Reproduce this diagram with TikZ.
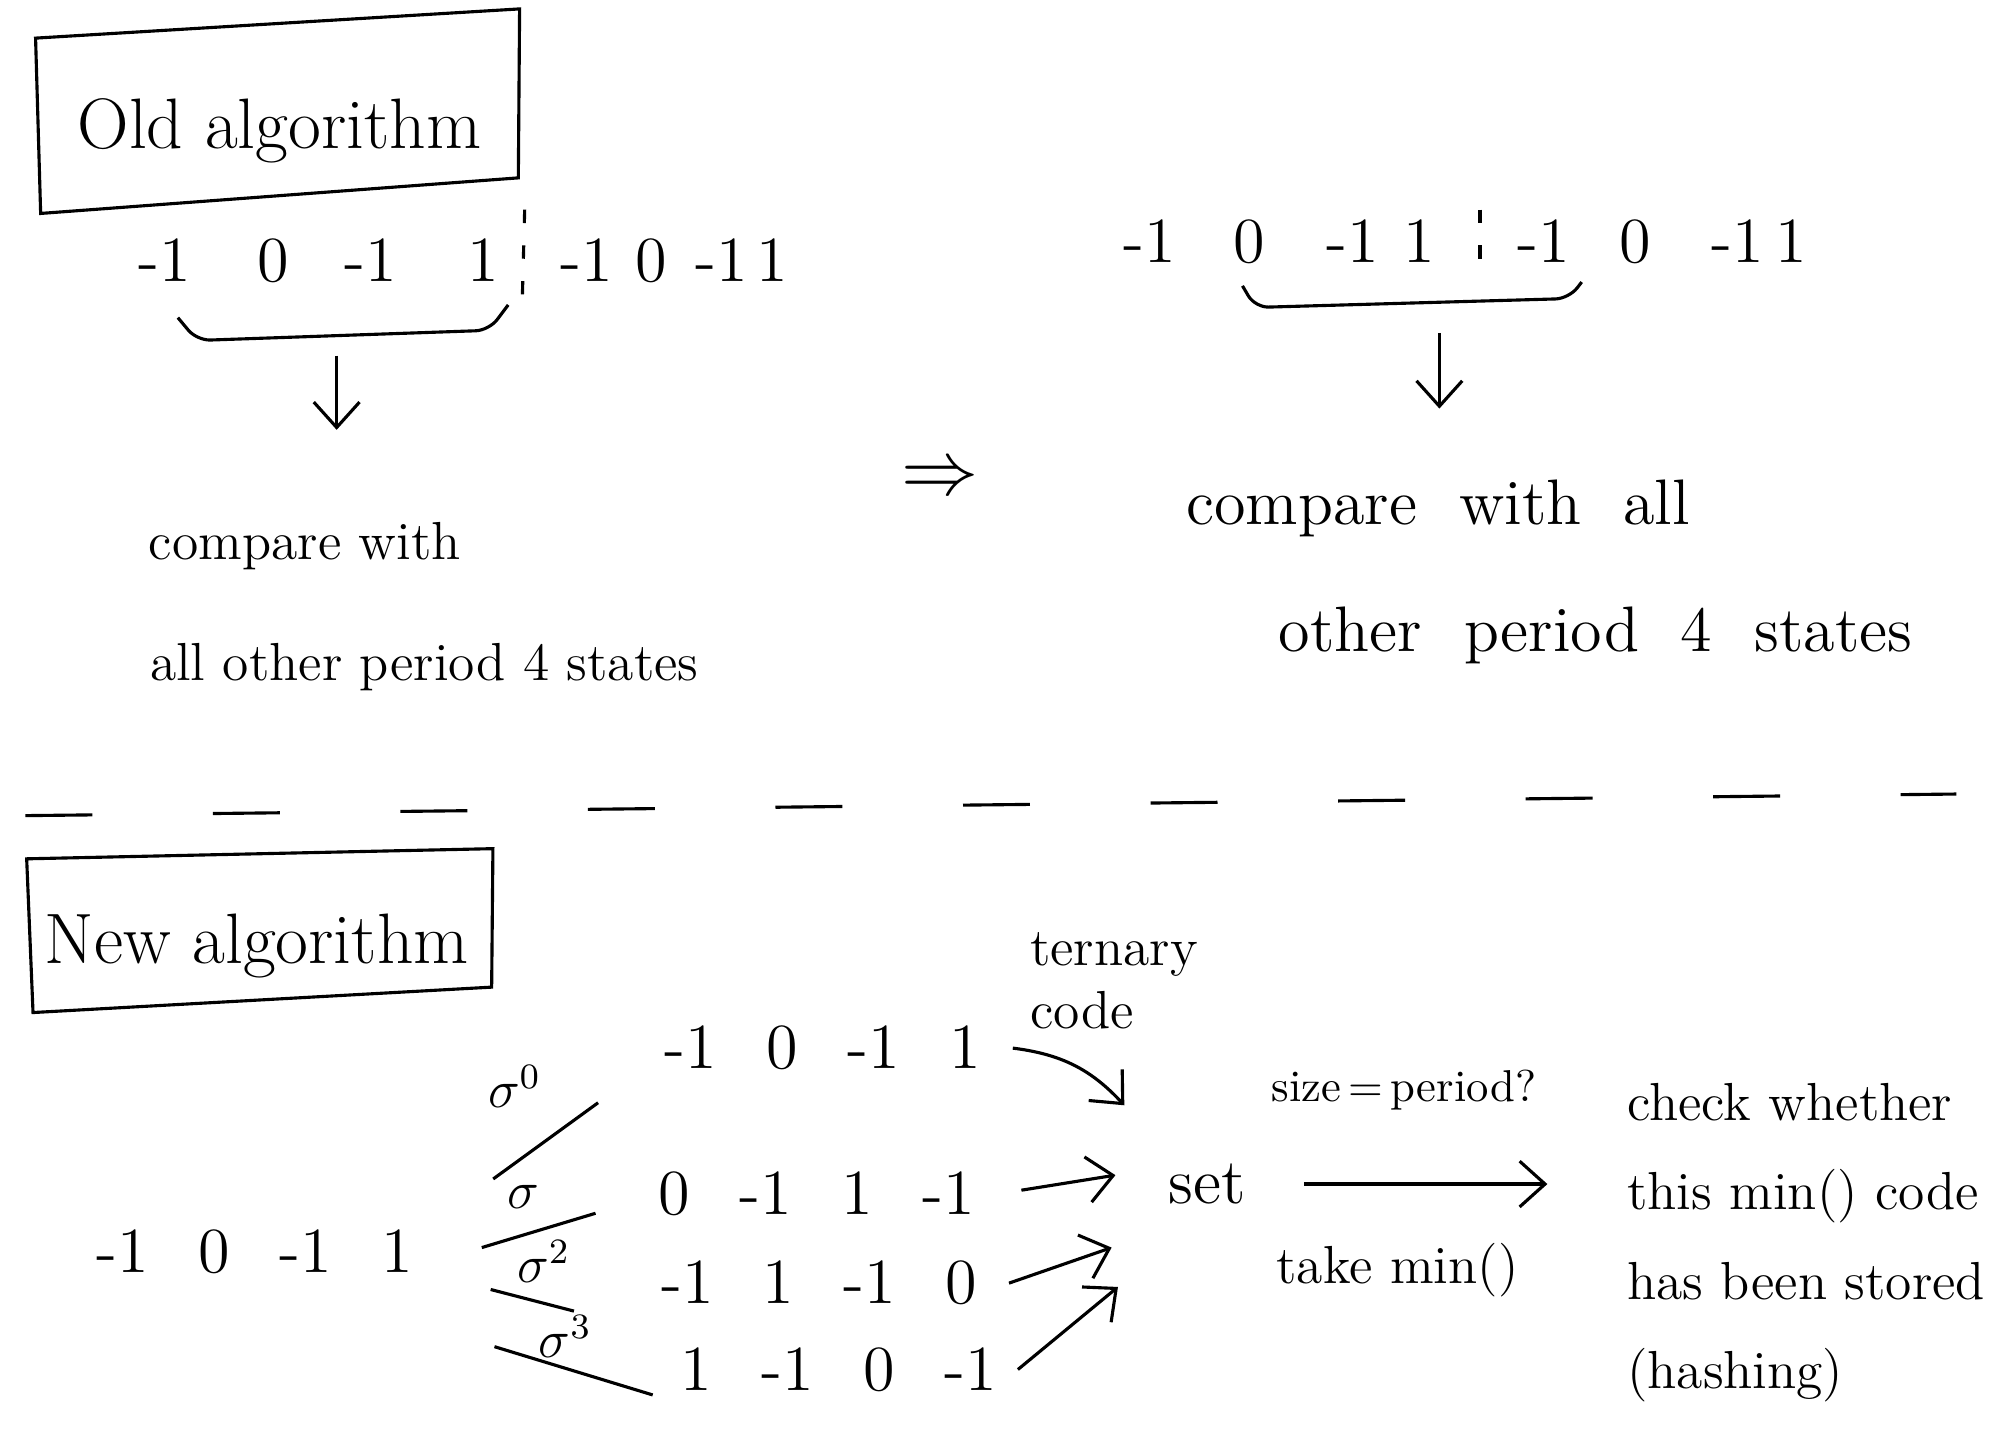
\documentclass[tikz,border=0pt]{standalone}
\usetikzlibrary{calc,arrows.meta}
\begin{document}
\begin{tikzpicture}[line width=0.7pt,>={Straight Barb[length=2mm,width=3.6mm]},
  num/.style={font=\Large,inner sep=1pt},
  seq/.style={font=\Large,inner sep=0pt},
  sig/.style={font=\large,inner sep=1pt},
  hand/.style={font=\large},
  big/.style={font=\Large},
  title/.style={font=\fontsize{16}{19}\selectfont,anchor=base},
  bracket/.style={rounded corners=3pt},
  cutline/.style={dash pattern=on 15pt off 27pt},
  cut/.style={dash pattern=on 3pt off 5pt}]
\def\yOld{-2.05}
\def\yOldR{-1.90}
\def\cell#1{\makebox[7.2mm]{#1}}
\useasboundingbox (0,0) rectangle (15.68,-11.45);

% old algorithm
\node[title] (old) at (2.20,-1.17) {Old algorithm};
\draw (0.28,-0.30) -- (4.09,-0.07) -- (4.08,-1.40) -- (0.32,-1.68) -- cycle;
\path
(1.30,\yOld) node [num] (o1) {-1}
(2.15,\yOld) node [num] (o2) {0}
(2.92,\yOld) node [num] (o3) {-1}
(3.80,\yOld) node [num] (o4) {1}
(4.62,\yOld) node [num] (o5) {-1}
(5.13,\yOld) node [num] (o6) {0}
(5.68,\yOld) node [num] (o7) {-1}
(6.08,\yOld) node [num] (o8) {1}
;
\coordinate (cutL) at (4.13,-1.65);
\draw[cut] (cutL) -- ++(-0.02,-0.75);
\draw[bracket] ($(o1)+(0.10,-0.45)$) -- ($(o1)+(0.25,-0.63)$) -- ($(o4)+(0.05,-0.55)$) -- ($(o4)+(0.20,-0.35)$);
\coordinate (brL) at (2.65,-2.80);
\node[hand] (cmpL) at (2.40,-4.30) {compare with};
\node[hand] (allL) at (3.34,-5.25) {all other period 4 states};
\draw[->,shorten >=0.6cm] (brL) -- (brL |- cmpL.north);

\node[font=\LARGE] (imp) at (7.40,-3.78) {$\Rightarrow$};

\path
(9.05,\yOldR) node [num] (r1) {-1}
(9.83,\yOldR) node [num] (r2) {0}
(10.65,\yOldR) node [num] (r3) {-1}
(11.17,\yOldR) node [num] (r4) {1}
(12.15,\yOldR) node [num] (r5) {-1}
(12.87,\yOldR) node [num] (r6) {0}
(13.68,\yOldR) node [num] (r7) {-1}
(14.10,\yOldR) node [num] (r8) {1}
;
\coordinate (cutR) at (11.65,-1.65);
\draw[cut] (cutR) -- ++(0,-0.55);
\draw[bracket] ($(r2)+(-0.05,-0.35)$) -- ($(r2)+(0.05,-0.52)$) -- ($(r5)+(0.20,-0.45)$) -- ($(r5)+(0.30,-0.32)$);
\coordinate (brR) at (11.33,-2.62);
\node[big] (cmpR) at (11.32,-4.00) {compare\ \ with\ \ all};
\node[big] (allR) at (12.56,-5.00) {other\ \ period\ \ 4\ \ states};
\draw[->,shorten >=0.43cm] (brR) -- (brR |- cmpR.north);

\draw[cutline] (0.20,-6.42) -- (15.40,-6.25);

% new algorithm
\node[title] (new) at (2.02,-7.58) {New algorithm};
\draw (0.21,-6.76) -- (3.88,-6.68) -- (3.87,-7.77) -- (0.26,-7.97) -- cycle;

\node[seq] (src) at (2.05,-9.85) {\cell{-1}\cell{0}\cell{-1}\cell{1}};
\node[seq] (row0) at (6.52,-8.25) {\cell{-1}\cell{0}\cell{-1}\cell{1}};
\node[seq] (row1) at (6.39,-9.40) {\cell{0}\cell{-1}\cell{1}\cell{-1}};
\node[seq] (row2) at (6.49,-10.10) {\cell{-1}\cell{1}\cell{-1}\cell{0}};
\node[seq] (row3) at (6.56,-10.78) {\cell{1}\cell{-1}\cell{0}\cell{-1}};

\node[sig] (s0) at (4.05,-8.55) {$\sigma^0$};
\node[sig] (s1) at (4.12,-9.42) {$\sigma$};
\node[sig] (s2) at (4.28,-9.93) {$\sigma^2$};
\node[sig] (s3) at (4.45,-10.52) {$\sigma^3$};
\draw ($(src.east)+(0.38,0.57)$) -- ($(row0.west)+(-0.36,-0.43)$);
\draw ($(src.east)+(0.29,0.03)$) -- ($(row1.west)+(-0.25,-0.15)$);
\draw ($(src.east)+(0.36,-0.30)$) -- ($(row2.west)+(-0.52,-0.22)$);
\draw ($(src.east)+(0.39,-0.75)$) -- ($(row3.west)+(0.03,-0.20)$);

\node[big] (set) at (9.50,-9.32) {set};
\node[hand,align=left,anchor=west] (tern) at (7.98,-7.72) {ternary\\code};
\draw[->] (row0.east) to[bend left=20] ($(set)+(-0.65,0.62)$);
\draw[->,shorten <=0.2cm] (row1.east) -- ($(set)+(-0.72,0.07)$);
\draw[->] (row2.east) -- ($(set)+(-0.75,-0.50)$);
\draw[->] (row3.east) -- ($(set)+(-0.70,-0.81)$);

\node[hand,align=left,anchor=west] (chk) at (12.68,-9.78) {check whether\\[6pt]this min() code\\[6pt]has been stored\\[6pt](hashing)};
\draw[->,shorten <=0.33cm,shorten >=0.5cm] (set.east) -- (set.east -| chk.west);
\node (size) at (11.05,-8.58) {size\,=\,period?};
\node[hand] (take) at (11.00,-10.00) {take min()};

\end{tikzpicture}
\end{document}
